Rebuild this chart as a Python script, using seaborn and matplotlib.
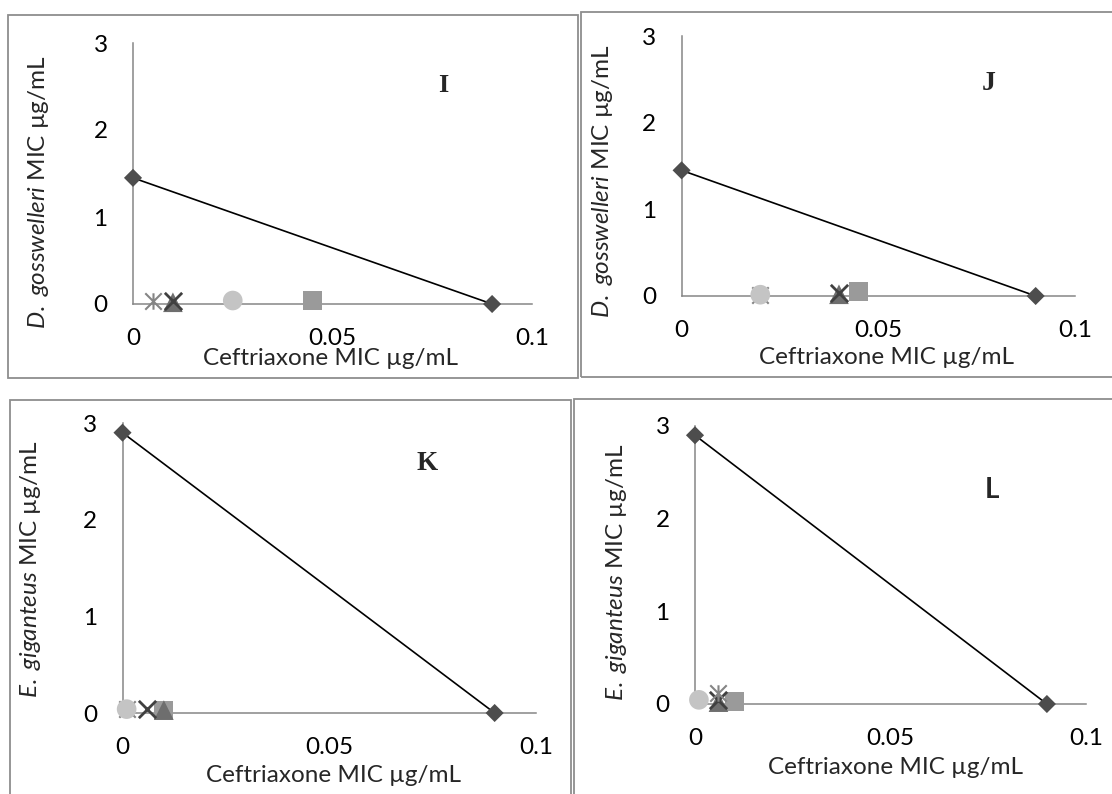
import numpy as np
import pandas as pd
import seaborn as sns
import matplotlib
matplotlib.use("Agg")
import matplotlib.pyplot as plt
from matplotlib.path import Path
from matplotlib.patches import Rectangle

# ---------------- data ----------------
panels = ["I", "J", "K", "L"]
ylabels_species = ["D. gosswelleri", "D. gosswelleri", "E. giganteus", "E. giganteus"]
xlabel_text = "Ceftriaxone MIC µg/mL"
xticks = [0, 0.05, 0.1]
xtick_labels = ["0", "0.05", "0.1"]
yticks = [0, 1, 2, 3]
ytick_labels = ["0", "1", "2", "3"]

# isobologram line (diamonds)
line_x_I = [0, 0.09]
line_y_I = [1.45, 0]
line_x_J = [0, 0.09]
line_y_J = [1.45, 0]
line_x_K = [0, 0.09]
line_y_K = [2.9, 0]
line_x_L = [0, 0.09]
line_y_L = [2.9, 0]

# combination points (x = ceftriaxone, y = extract)
square_I = (0.045, 0.04)
triangle_I = (0.01, 0.02)
cross_I = (0.01, 0.04)
aster_I = (0.005, 0.04)
circle_I = (0.025, 0.04)

square_J = (0.045, 0.05)
triangle_J = (0.04, 0.02)
cross_J = (0.04, 0.03)
aster_J = (0.02, 0.015)
circle_J = (0.02, 0.015)

square_K = (0.01, 0.03)
triangle_K = (0.01, 0.03)
cross_K = (0.006, 0.04)
aster_K = (0.001, 0.04)
circle_K = (0.001, 0.04)

square_L = (0.01, 0.03)
triangle_L = (0.006, 0.02)
cross_L = (0.006, 0.04)
aster_L = (0.006, 0.12)
circle_L = (0.001, 0.045)

# ---------------- style ----------------
sns.set_style("white")
plt.rcParams["font.family"] = ["Lato", "DejaVu Sans"]
plt.rcParams["mathtext.fontset"] = "custom"
plt.rcParams["mathtext.rm"] = "Lato"
plt.rcParams["mathtext.it"] = "Lato:italic"

W, H = 1112, 794
fig = plt.figure(figsize=(W / 100, H / 100), dpi=100)
fig.patch.set_facecolor("white")

FS = 17.5
FRAME = "#8e8e8e"
AXC = "#868686"
C_DIAMOND = "#4d4d4d"
C_SQUARE = "#9a9a9a"
C_TRI = "#6e6e6e"
C_CROSS = "#404040"
C_ASTER = "#858585"
C_CIRCLE = "#c4c4c4"

aster_path = Path(
    [(0, -1), (0, 1), (-1, -1), (1, 1), (-1, 1), (1, -1)],
    [Path.MOVETO, Path.LINETO, Path.MOVETO, Path.LINETO, Path.MOVETO, Path.LINETO],
)

# frames (pixel coords: left, right, top, bottom)
frames = [(8, 578, 15, 378), (581, 1120, 12, 377), (10, 571, 400, 800), (574, 1120, 399, 800)]
for l, r, t, b in frames:
    fig.add_artist(Rectangle((l / W, 1 - b / H), (r - l) / W, (b - t) / H,
                             transform=fig.transFigure, fill=False,
                             edgecolor=FRAME, linewidth=1.3, zorder=0))

# axes rectangles in pixels
axes_px = [(133, 532, 43, 304), (681.6, 1075, 36, 296), (122.5, 536, 423, 713), (695, 1086, 426, 704)]
ylabel_pos = [(-0.238, 0.429), (-0.202, 0.442), (-0.222, 0.497), (-0.200, 0.473)]
xlabel_pos = [(0.496, -0.207), (0.521, -0.238), (0.511, -0.214), (0.513, -0.230)]
letter_pos_px = [(443, 85), (989, 83), (427, 463), (992, 490)]
letter_sizes = [19, 20, 19.5, 20]

lines = [(line_x_I, line_y_I), (line_x_J, line_y_J), (line_x_K, line_y_K), (line_x_L, line_y_L)]
points = [
    (square_I, triangle_I, cross_I, aster_I, circle_I),
    (square_J, triangle_J, cross_J, aster_J, circle_J),
    (square_K, triangle_K, cross_K, aster_K, circle_K),
    (square_L, triangle_L, cross_L, aster_L, circle_L),
]

for i, (l, r, t, b) in enumerate(axes_px):
    ax = fig.add_axes([l / W, 1 - b / H, (r - l) / W, (b - t) / H])
    lx, ly = lines[i]
    df_line = pd.DataFrame({"x": lx, "y": ly})
    sns.lineplot(data=df_line, x="x", y="y", color="black", linewidth=1.2, ax=ax,
                 clip_on=False, zorder=3)
    sns.scatterplot(data=df_line, x="x", y="y", marker="D", s=85, color=C_DIAMOND,
                    edgecolor="none", linewidth=0, ax=ax, clip_on=False, zorder=4)

    sq, tri, cr, ast, ci = points[i]
    specs = [
        (sq, "s", 190, C_SQUARE, None),
        (tri, "^", 200, C_TRI, None),
        (cr, "x", 155, C_CROSS, 2.0),
        (ast, aster_path, 140, C_ASTER, 1.5),
        (ci, "o", 200, C_CIRCLE, None),
    ]
    for z, (pt, mk, s, col, lw) in enumerate(specs):
        dfp = pd.DataFrame({"x": [pt[0]], "y": [pt[1]]})
        if lw is None:
            sns.scatterplot(data=dfp, x="x", y="y", marker=mk, s=s, color=col,
                            edgecolor="none", linewidth=0, ax=ax, clip_on=False,
                            zorder=5 + z)
        else:
            sns.scatterplot(data=dfp, x="x", y="y", marker=mk, s=s, color=col,
                            edgecolor=col, linewidth=lw, ax=ax, clip_on=False,
                            zorder=5 + z)

    ax.set_xlim(0, 0.1)
    ax.set_ylim(0, 3)
    ax.set_xticks(xticks)
    ax.set_xticklabels(xtick_labels)
    ax.set_yticks(yticks)
    ax.set_yticklabels(ytick_labels)
    for sp in ["top", "right"]:
        ax.spines[sp].set_visible(False)
    for sp in ["left", "bottom"]:
        ax.spines[sp].set_color(AXC)
        ax.spines[sp].set_linewidth(1.1)
    ax.tick_params(axis="both", direction="out", length=5.8, width=1.1, color=AXC,
                   labelsize=FS, labelcolor="black")
    ax.tick_params(axis="y", pad=12.5)
    ax.tick_params(axis="x", pad=11.5)
    ax.set_facecolor("none")

    species = ylabels_species[i].replace(" ", r"\ ")
    ax.set_ylabel(r"$\mathit{" + species + "}$ MIC µg/mL", fontsize=FS)
    ax.yaxis.label.set_va("center")
    ax.yaxis.label.set_ha("center")
    ax.yaxis.set_label_coords(*ylabel_pos[i])
    ax.set_xlabel(xlabel_text, fontsize=FS)
    ax.xaxis.label.set_va("center")
    ax.xaxis.set_label_coords(*xlabel_pos[i])

    lxp, lyp = letter_pos_px[i]
    if panels[i] == "L":
        fig.text(lxp / W, 1 - lyp / H, panels[i], fontsize=letter_sizes[i], fontweight="bold",
                 family=["Lato", "DejaVu Sans"], ha="center", va="center")
    else:
        fig.text(lxp / W, 1 - lyp / H, panels[i], fontsize=letter_sizes[i], fontweight="bold",
                 family=["Liberation Serif", "DejaVu Serif"], ha="center", va="center")

fig.savefig("out.png", dpi=100, facecolor="white")
